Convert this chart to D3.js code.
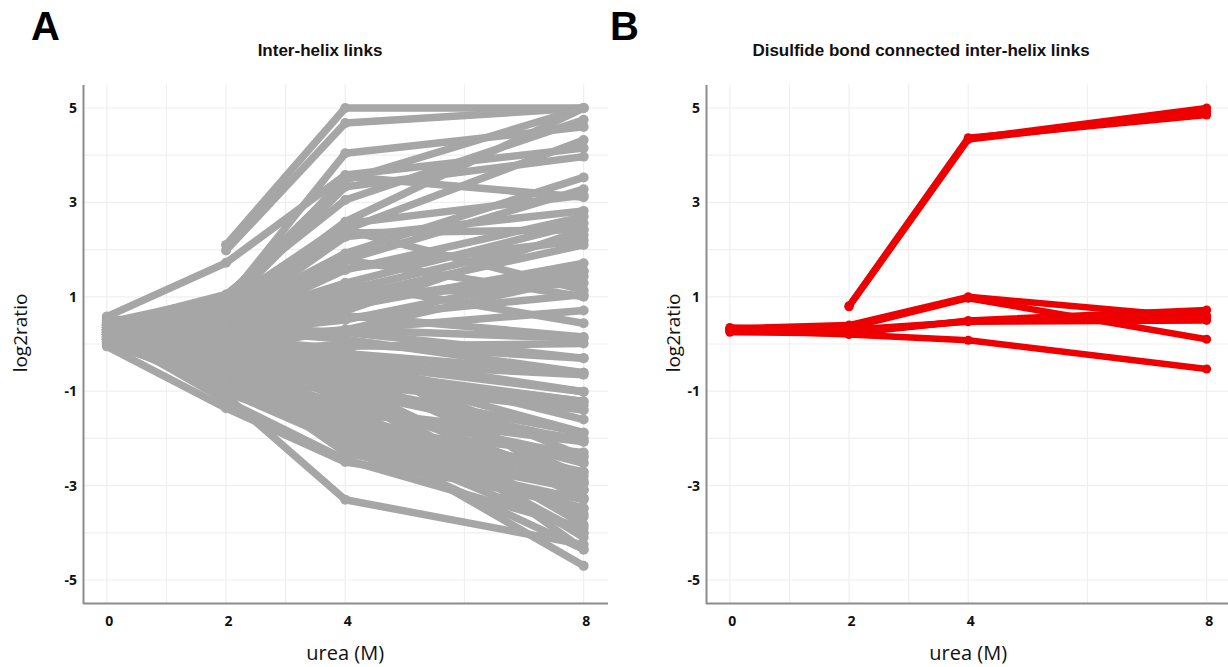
<!DOCTYPE html>
<html><head><meta charset="utf-8">
<script src="https://cdn.jsdelivr.net/npm/d3@7"></script>
<style>body{margin:0;background:#fff}svg{display:block}</style>
</head><body>
<script>
const ureaLevels = [0, 2, 4, 8];
const xTickLabels = [0, 2, 4, 8];
const xGridValues = [0, 1, 2, 3, 4, 6, 8];
const yTickLabels = [5, 3, 1, -1, -3, -5];
const yGridValues = [-5, -4, -3, -2, -1, 0, 1, 2, 3, 4, 5];

// Panel A: inter-helix links, log2ratio at urea 0, 2, 4, 8 M (null = not measured)
const interHelixLinks = [
  [null, 2.1, 5.0, 5.0],
  [null, 1.98, 4.68, 5.0],
  [0.58, 1.72, 3.58, 4.15],
  [0.45, 1.0, 3.47, 5.0],
  [0.4, 1.05, 3.05, 4.75],
  [0.3, 0.9, 4.04, 4.6],
  [0.3, 0.8, 3.33, 3.97],
  [0.4, 0.7, 2.59, 5.0],
  [0.3, 0.65, 2.42, 4.32],
  [0.25, 0.75, 3.55, 3.11],
  [0.2, 0.6, 1.92, 3.53],
  [0.3, 0.55, 1.78, 3.28],
  [0.2, 0.5, 2.27, 2.82],
  [0.25, 0.45, 2.35, 2.42],
  [0.3, 0.4, 1.57, 2.7],
  [0.15, 0.5, 1.29, 2.56],
  [0.2, 0.3, 1.14, 2.31],
  [0.1, 0.35, 1.0, 2.1],
  [0.3, 0.2, 0.79, 1.71],
  [0.2, 0.25, 0.51, 1.53],
  [0.35, 0.1, 0.3, 1.43],
  [0.15, 0.0, 1.0, 1.29],
  [0.25, 0.6, 2.42, 1.14],
  [0.4, 0.5, 1.78, 1.0],
  [0.1, -0.1, 0.3, 0.71],
  [0.3, 0.3, 1.29, 0.44],
  [0.2, 0.15, 0.6, 0.15],
  [0.05, -0.2, -0.05, 0.01],
  [0.45, 0.0, 0.3, 0.12],
  [0.35, 0.4, 0.7, 2.42],
  [0.3, -0.2, 0.0, -0.3],
  [0.2, -0.3, -0.2, -0.61],
  [0.1, -0.4, -0.4, -1.01],
  [0.4, -0.1, -0.6, -1.22],
  [0.25, -0.5, -0.83, -1.4],
  [0.0, -0.6, -0.5, -1.88],
  [0.15, -0.7, -1.0, -2.07],
  [0.3, -0.45, -1.33, -2.39],
  [0.05, -0.9, -1.2, -2.53],
  [0.2, -0.8, -1.6, -2.71],
  [0.35, -0.3, -1.75, -2.95],
  [0.1, -1.0, -2.1, -3.09],
  [-0.05, -1.36, -2.5, -3.27],
  [0.3, -1.1, -3.3, -4.25],
  [0.25, -0.6, -2.0, -3.48],
  [0.15, -0.5, -1.5, -3.66],
  [0.4, -0.4, -0.9, -3.83],
  [0.0, -0.8, -1.3, -4.01],
  [0.2, -0.2, -0.7, -4.36],
  [0.3, -0.65, -1.8, -4.7],
  [0.45, -0.25, -0.3, -2.39],
  [0.1, -0.05, -0.55, -1.22],
  [0.5, 0.1, -0.1, -3.09],
  [0.2, -0.35, -1.1, -2.95],
  [0.05, -0.55, -2.3, -3.48],
  [0.3, -0.9, -1.45, -2.07],
  [0.35, 0.2, -0.25, -1.01],
  [0.15, -0.15, -1.9, -4.0],
  [0.25, -1.2, -2.45, -3.9],
  [0.4, 0.3, 0.1, -0.61],
  [0.1, -0.7, -0.85, -3.27],
  [0.3, -0.45, -2.2, -2.71],
  [0.2, 0.05, -0.9, -1.88],
  [0.55, 0.25, -0.45, -1.4],
  [0.2, -0.3, -1.5, -2.9],
  [0.35, -0.5, -1.9, -3.1],
  [0.1, -0.6, -1.7, -3.6],
  [0.25, -0.75, -2.2, -3.3],
  [0.4, -0.15, -1.2, -2.5],
  [0.15, -0.95, -1.4, -2.0],
  [0.3, -0.35, -0.7, -1.3],
  [0.05, -0.25, -0.4, -0.65],
  [0.5, 0.35, 0.25, -0.3],
  [0.2, 0.45, 0.9, 1.55],
  [0.3, 0.55, 1.6, 2.2],
  [0.4, 0.85, 2.55, 3.15],
  [0.35, 0.15, 0.55, 1.05],
  [0.1, -0.45, -1.0, -4.1],
  [0.25, -0.85, -2.0, -4.35],
  [0.45, 0.05, -0.6, -2.8],
  [0.2, -1.05, -1.8, -2.3],
  [0.3, 0.0, -0.35, -1.6]
];

// Panel B: disulfide bond connected inter-helix links
const disulfideLinks = [
  [null, 0.8, 4.35, 5.0],
  [null, 0.79, 4.33, 4.92],
  [null, 0.81, 4.37, 4.85],
  [0.33, 0.4, 1.0, 0.55],
  [0.3, 0.35, 0.97, 0.1],
  [0.28, 0.25, 0.48, 0.6],
  [0.25, 0.22, 0.5, 0.72],
  [0.3, 0.2, 0.08, -0.53],
  [0.35, 0.3, 0.47, 0.5]
];

const W = 1228, H = 667;
const svg = d3.select("body").append("svg").attr("width", W).attr("height", H);

const y = d3.scaleLinear().domain([-5.5, 5.5]).range([603.6, 84.4]);

function panel(opt) {
  const g = svg.append("g");
  const x = d3.scaleLinear().domain([-0.4, 8.4]).range([opt.left, opt.left + 8.8 * 59.6]);
  const gridRight = opt.gridRight;
  g.selectAll("line.hg").data(yGridValues).join("line")
    .attr("x1", opt.left).attr("x2", gridRight)
    .attr("y1", d => y(d)).attr("y2", d => y(d))
    .attr("stroke", "#efefef").attr("stroke-width", 1.2);
  g.selectAll("line.vg").data(xGridValues).join("line")
    .attr("x1", d => x(d)).attr("x2", d => x(d))
    .attr("y1", y(5.5)).attr("y2", y(-5.5))
    .attr("stroke", "#efefef").attr("stroke-width", 1.2);
  const xAxis = d3.axisBottom(x).tickValues(xTickLabels).tickSize(0).tickPadding(12).tickFormat(d => String(d));
  const xa = g.append("g").attr("transform", `translate(0,${y(-5.5)})`).call(xAxis);
  xa.select(".domain").attr("stroke", "#8c8c8c").attr("stroke-width", 2).attr("d", `M${opt.left},0H${gridRight}`);
  xa.selectAll("text").attr("font-family", "'Open Sans', sans-serif").attr("font-weight", "bold")
    .attr("font-size", 14).attr("fill", "#111").attr("dx", 2);
  const yAxis = d3.axisLeft(y).tickValues(yTickLabels).tickSize(0).tickPadding(6).tickFormat(d => String(d));
  const ya = g.append("g").attr("transform", `translate(${opt.left},0)`).call(yAxis);
  ya.select(".domain").attr("stroke", "#8c8c8c").attr("stroke-width", 2);
  ya.selectAll("text").attr("font-family", "'Open Sans', sans-serif").attr("font-weight", "bold")
    .attr("font-size", 14).attr("fill", "#111");

  const line = d3.line().defined(d => d[1] !== null).x(d => x(d[0])).y(d => y(d[1]));
  const series = opt.data.map(row => row.map((v, i) => [ureaLevels[i], v]));
  g.append("g").selectAll("path").data(series).join("path")
    .attr("d", line).attr("fill", "none").attr("stroke", opt.color)
    .attr("stroke-width", opt.sw).attr("stroke-linejoin", "round").attr("stroke-linecap", "round");
  const pts = series.flat().filter(d => d[1] !== null);
  g.append("g").selectAll("circle").data(pts).join("circle")
    .attr("cx", d => x(d[0])).attr("cy", d => y(d[1])).attr("r", opt.r).attr("fill", opt.color);

  g.append("text").attr("x", opt.titleX).attr("y", 56).attr("text-anchor", "middle")
    .attr("font-family", "'Liberation Sans', Arial, sans-serif").attr("font-weight", "bold").attr("font-size", 17)
    .attr("fill", "#111").text(opt.title);
  g.append("text").attr("x", opt.letterX).attr("y", 40)
    .attr("font-family", "'Liberation Sans', Arial, sans-serif").attr("font-weight", "bold").attr("font-size", 40)
    .attr("fill", "#000").text(opt.letter);
  g.append("text").attr("transform", `translate(${opt.labelX},333) rotate(-90)`).attr("text-anchor", "middle")
    .attr("dy", "0.35em")
    .attr("font-family", "'Open Sans', sans-serif").attr("font-size", 19).attr("fill", "#111").text("log2ratio");
  g.append("text").attr("x", x(4)).attr("y", 660).attr("text-anchor", "middle")
    .attr("font-family", "'Open Sans', sans-serif").attr("font-size", 20).attr("fill", "#111").text("urea (M)");
}

panel({left: 83, gridRight: 608, data: interHelixLinks, color: "#a6a6a6", sw: 7.5, r: 5,
  title: "Inter-helix links", titleX: 320, letter: "A", letterX: 31, labelX: 20});
panel({left: 706, gridRight: 1228, data: disulfideLinks, color: "#ee0000", sw: 6.5, r: 4.5,
  title: "Disulfide bond connected inter-helix links", titleX: 921, letter: "B", letterX: 610, labelX: 673});
</script>
</body></html>
